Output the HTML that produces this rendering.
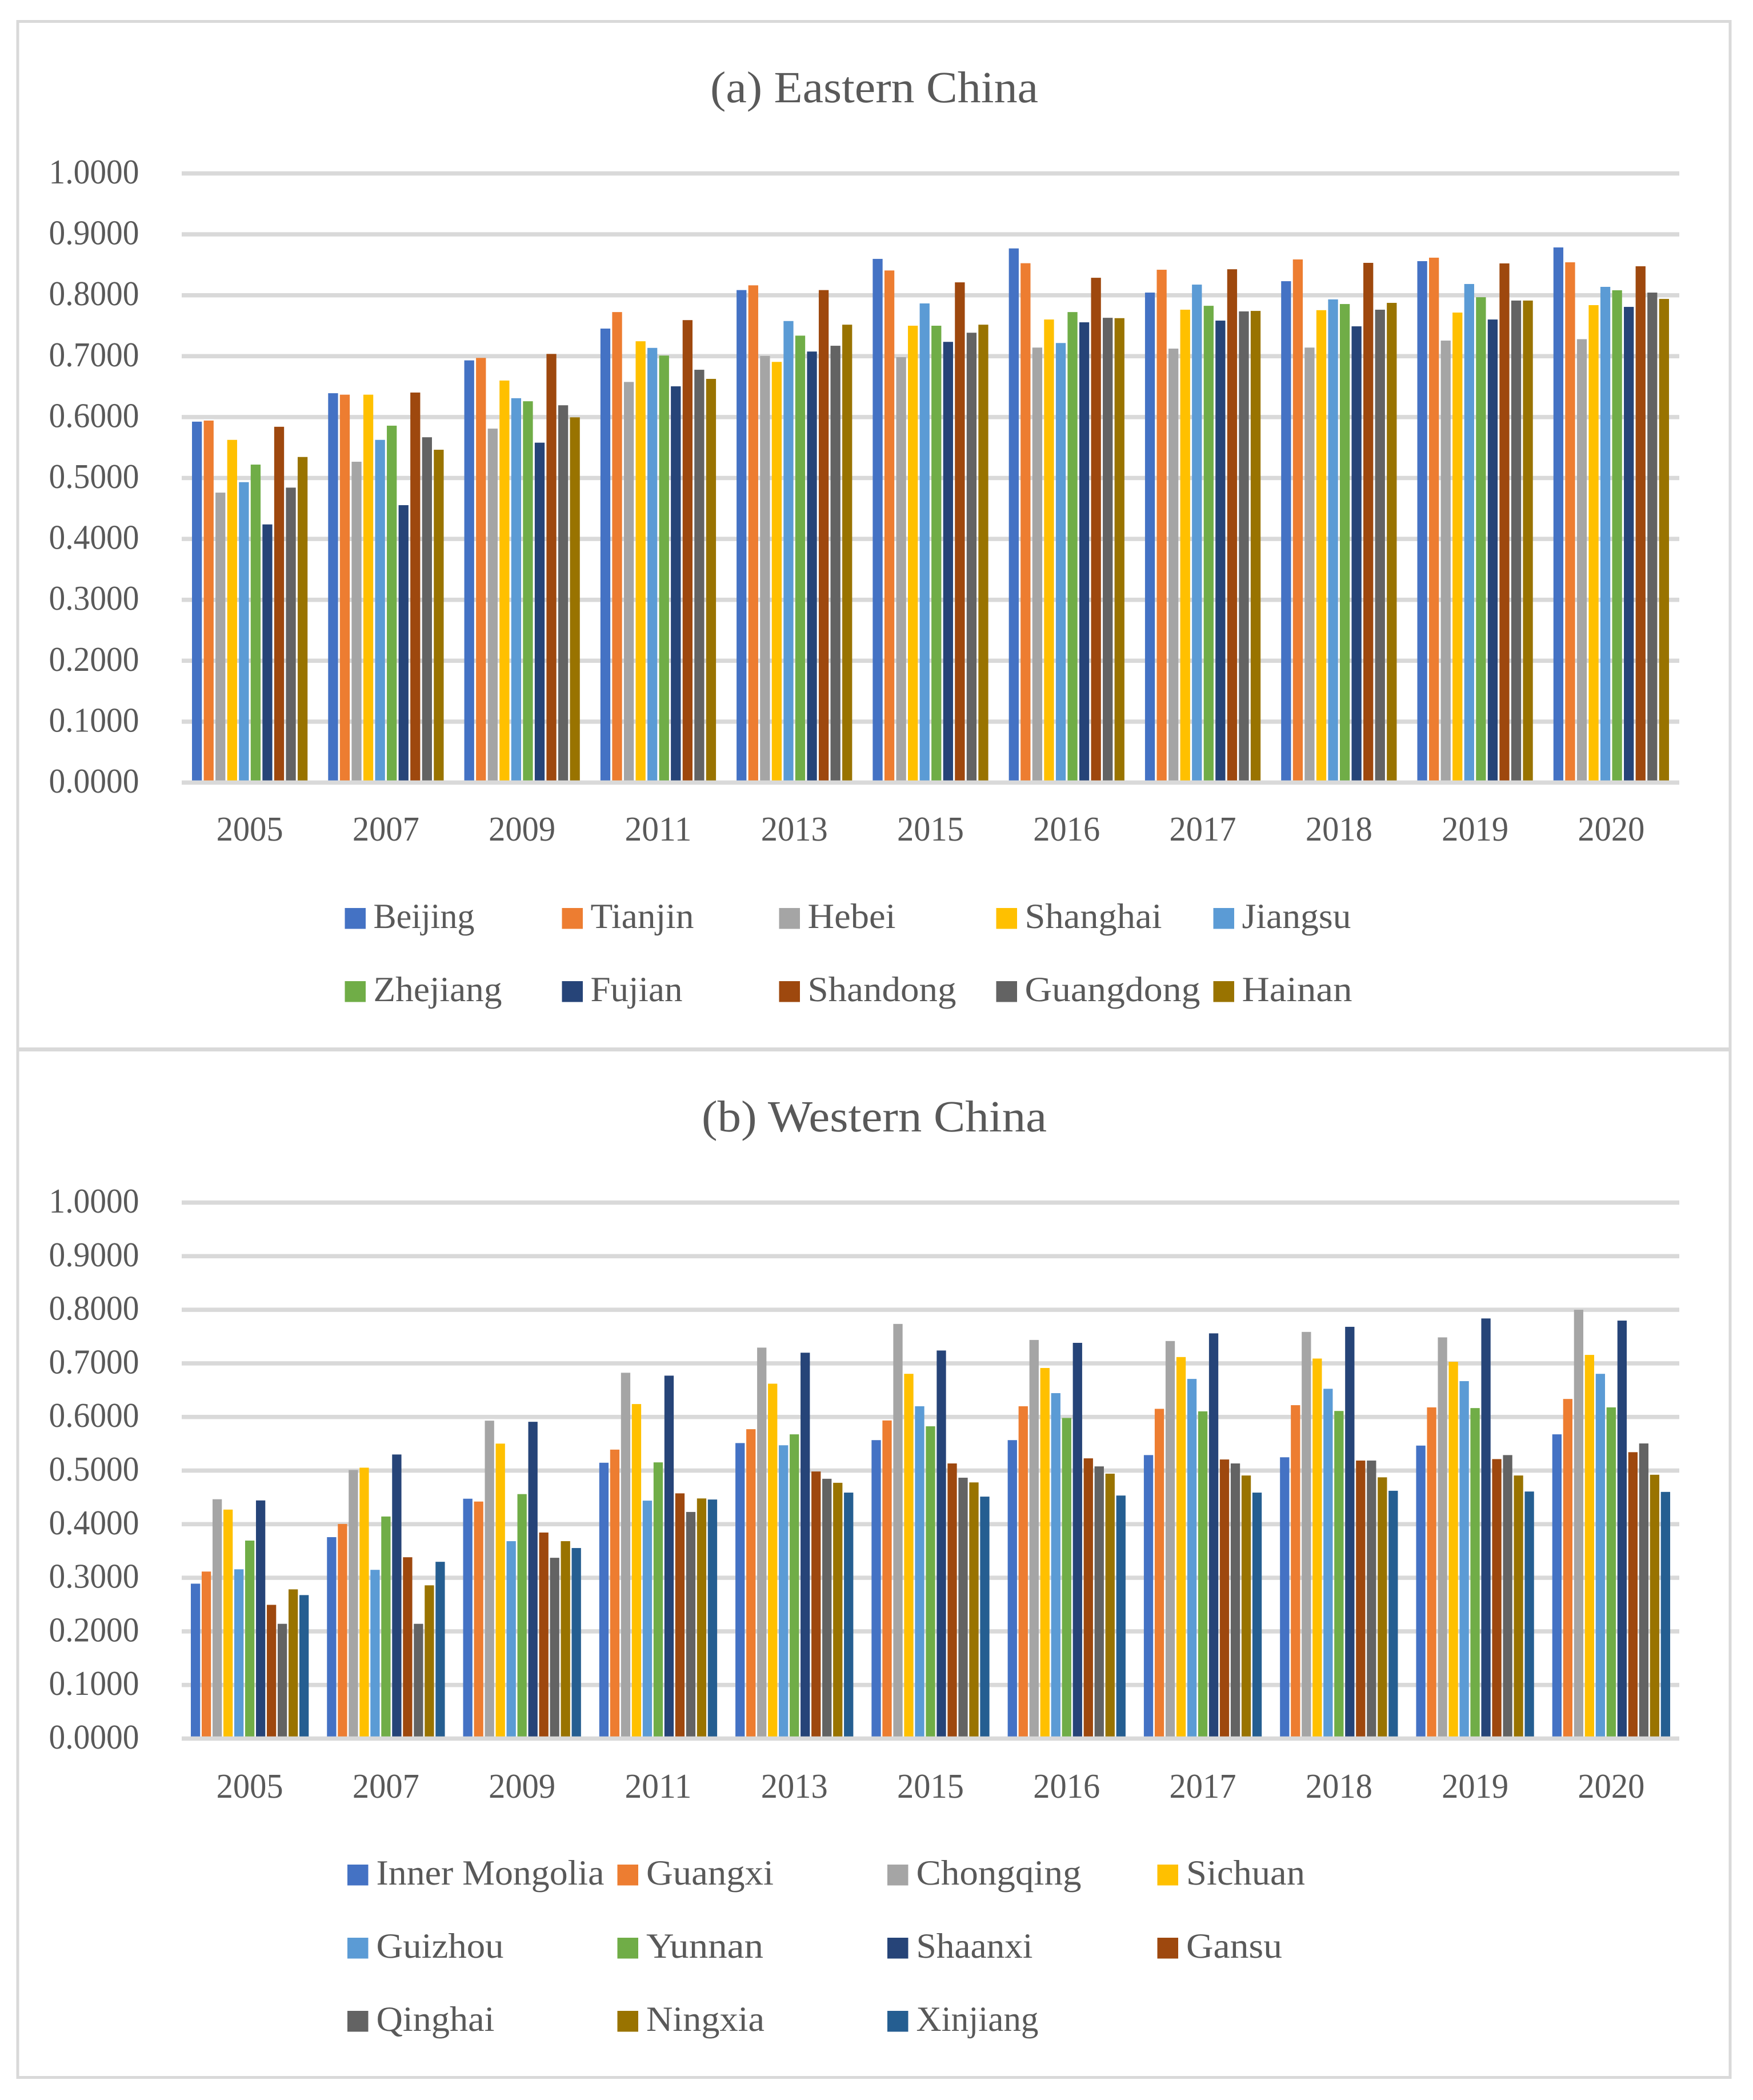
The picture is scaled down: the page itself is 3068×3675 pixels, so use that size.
<!DOCTYPE html>
<html lang="en">
<head>
<meta charset="utf-8">
<title>Eastern and Western China bar charts</title>
<style>
html,body{margin:0;padding:0;background:#fff;width:3068px;height:3675px;overflow:hidden}
svg{display:block}
text{font-family:"Liberation Serif",serif;fill:#595959;text-rendering:geometricPrecision}
</style>
</head>
<body>
<svg id="figure" xmlns="http://www.w3.org/2000/svg" width="3068" height="3675" viewBox="0 0 3068 3675">
  <rect x="0" y="0" width="3068" height="3675" fill="#ffffff"/>
  <rect x="31" y="37.5" width="2997" height="3598" fill="none" stroke="#D9D9D9" stroke-width="5"/>
  <rect x="29" y="1833" width="3001" height="7" fill="#D9D9D9"/>
  <text x="1530" y="179" font-size="78" text-anchor="middle" textLength="574" lengthAdjust="spacingAndGlyphs">(a) Eastern China</text>
  <text x="1530" y="1980" font-size="78" text-anchor="middle" textLength="604" lengthAdjust="spacingAndGlyphs">(b) Western China</text>
  <g id="east"></g>
  <g id="west"></g>
</svg>
<script>
const years = ['2005','2007','2009','2011','2013','2015','2016','2017','2018','2019','2020'];
const yTicks = [0,0.1,0.2,0.3,0.4,0.5,0.6,0.7,0.8,0.9,1];

const eastNames = ['Beijing','Tianjin','Hebei','Shanghai','Jiangsu','Zhejiang','Fujian','Shandong','Guangdong','Hainan'];
const beijing   = [.5925,.6392,.6931,.7453,.8085,.8597,.8769,.8044,.8231,.8560,.8785];
const tianjin   = [.5943,.6368,.6972,.7724,.8163,.8407,.8526,.8419,.8588,.8617,.8541];
const hebei     = [.4760,.5267,.5811,.6577,.7004,.6984,.7141,.7124,.7141,.7256,.7279];
const shanghai  = [.5626,.6368,.6600,.7245,.6906,.7500,.7602,.7763,.7755,.7716,.7838];
const jiangsu   = [.4932,.5626,.6310,.7136,.7577,.7866,.7216,.8175,.7932,.8185,.8138];
const zhejiang  = [.5220,.5859,.6260,.7010,.7337,.7500,.7724,.7827,.7856,.7968,.8082];
const fujian    = [.4238,.4554,.5580,.6505,.7076,.7235,.7556,.7584,.7490,.7602,.7809];
const shandong  = [.5841,.6403,.7037,.7592,.8085,.8212,.8287,.8427,.8532,.8523,.8476];
const guangdong = [.4842,.5669,.6194,.6777,.7171,.7385,.7630,.7735,.7763,.7913,.8044];
const hainan    = [.5345,.5464,.5996,.6627,.7517,.7517,.7624,.7743,.7875,.7913,.7940];
const eastValues = [beijing,tianjin,hebei,shanghai,jiangsu,zhejiang,fujian,shandong,guangdong,hainan];

const westNames = ['Inner Mongolia','Guangxi','Chongqing','Sichuan','Guizhou','Yunnan','Shaanxi','Gansu','Qinghai','Ningxia','Xinjiang'];
const innerMongolia = [.2890,.3758,.4475,.5146,.5513,.5568,.5568,.5289,.5248,.5466,.5676];
const guangxi   = [.3116,.4004,.4422,.5391,.5772,.5935,.6200,.6152,.6220,.6179,.6336];
const chongqing = [.4465,.5011,.5931,.6825,.7294,.7736,.7437,.7417,.7587,.7485,.8000];
const sichuan   = [.4272,.5054,.5503,.6241,.6621,.6805,.6914,.7118,.7090,.7029,.7158];
const guizhou   = [.3158,.3148,.3683,.4439,.5472,.6200,.6445,.6710,.6526,.6669,.6805];
const yunnan    = [.3694,.4143,.4561,.5153,.5676,.5826,.5982,.6105,.6112,.6166,.6179];
const shaanxi   = [.4443,.5300,.5910,.6771,.7199,.7240,.7383,.7560,.7682,.7838,.7798];
const gansu     = [.2495,.3383,.3844,.4575,.4983,.5133,.5228,.5207,.5187,.5214,.5343];
const qinghai   = [.2141,.2141,.3373,.4228,.4847,.4867,.5078,.5133,.5187,.5289,.5506];
const ningxia   = [.2784,.2859,.3683,.4480,.4772,.4779,.4942,.4908,.4874,.4908,.4922];
const xinjiang  = [.2677,.3298,.3555,.4460,.4589,.4514,.4534,.4589,.4623,.4609,.4602];
const westValues = [innerMongolia,guangxi,chongqing,sichuan,guizhou,yunnan,shaanxi,gansu,qinghai,ningxia,xinjiang];

const palette = ['#4472C4','#ED7D31','#A5A5A5','#FFC000','#5B9BD5','#70AD47','#264478','#9E480E','#636363','#997300','#255E91'];

const eastLayout = {y0:1369.5,y1:303.5,barW:17.3,pitch:20.55,yearBase:1471,
  swatchX:603.5,textX:653.5,colStep:380,perRow:5,rowY:[1624,1752],
  labelW:[177,181,154,240,191,225,161,260,307,193]};
const westLayout = {y0:3042.5,y1:2104.5,barW:16.3,pitch:19.0,yearBase:3146,
  swatchX:608,textX:658.5,colStep:472.5,perRow:4,rowY:[3298,3426,3554],
  labelW:[399,223,289,208,223,205,204,168,207,207,214]};
const plotLeft = 318, plotRight = 2939;

const SVGNS = 'http://www.w3.org/2000/svg';
function make(tag, attrs, parent, txt){
  const n = document.createElementNS(SVGNS, tag);
  for (const k in attrs) n.setAttribute(k, attrs[k]);
  if (txt !== undefined) n.textContent = txt;
  parent.appendChild(n);
  return n;
}

function drawChart(root, prefix, names, values, L){
  const yScale = v => L.y0 - v * (L.y0 - L.y1);
  const band = (plotRight - plotLeft) / years.length;
  const bandCenter = i => plotLeft + band * (i + 0.5);
  const n = names.length;
  const groupW = (n - 1) * L.pitch + L.barW;
  const xScale = (c, s) => bandCenter(c) - groupW / 2 + s * L.pitch;

  yTicks.forEach(t => {
    if (t !== 0) {
      const g = make('rect', {x:plotLeft, y:yScale(t) - 3.75, width:plotRight - plotLeft, height:7.5, fill:'#D9D9D9'}, root);
      
      
    }
    const lab = make('text', {x:243.5, y:yScale(t) + 17.5, 'font-size':61, 'text-anchor':'end', textLength:158, lengthAdjust:'spacingAndGlyphs'}, root, t.toFixed(4));
    
    
  });

  values.forEach((series, s) => {
    series.forEach((v, c) => {
      const b = make('rect', {x:xScale(c, s), y:yScale(v), width:L.barW, height:L.y0 - yScale(v), fill:palette[s]}, root);
      
      
    });
  });

  const axis = make('rect', {x:plotLeft, y:L.y0 - 3.75, width:plotRight - plotLeft, height:7.5, fill:'#D9D9D9'}, root);
  
  

  years.forEach((yr, c) => {
    const t = make('text', {x:bandCenter(c), y:L.yearBase, 'font-size':61, 'text-anchor':'middle', textLength:117, lengthAdjust:'spacingAndGlyphs'}, root, yr);
    
    
  });

  names.forEach((nm, s) => {
    const col = s % L.perRow, row = Math.floor(s / L.perRow);
    const base = L.rowY[row];
    const g = make('g', {}, root);
    
    
    const sw = make('rect', {x:L.swatchX + col * L.colStep, y:base - 35, width:36.5, height:36.5, fill:palette[s]}, g);
    
    
    const tx = make('text', {x:L.textX + col * L.colStep, y:base, 'font-size':62, textLength:L.labelW[s], lengthAdjust:'spacingAndGlyphs'}, g, nm);
    
    
  });
}

drawChart(document.getElementById('east'), 'east', eastNames, eastValues, eastLayout);
drawChart(document.getElementById('west'), 'west', westNames, westValues, westLayout);
</script>
</body>
</html>
